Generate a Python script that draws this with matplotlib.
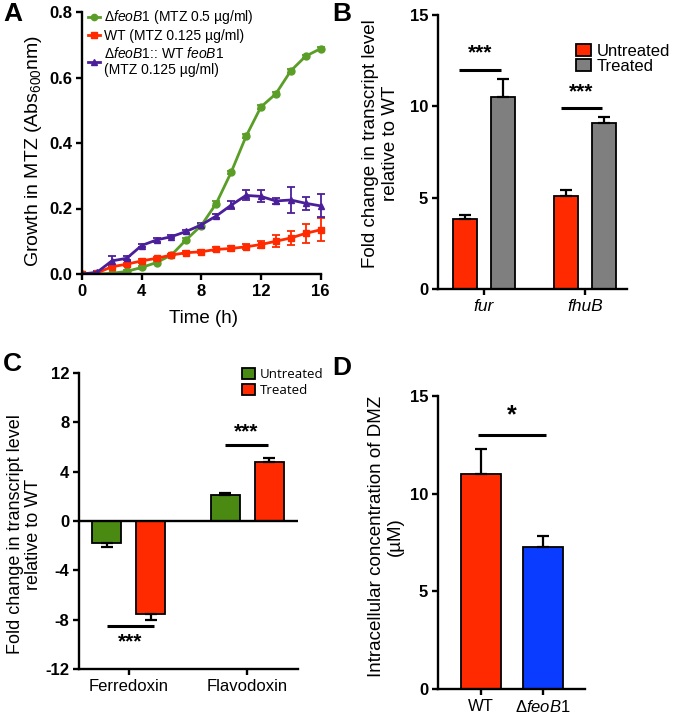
import numpy as np
import matplotlib
matplotlib.use("Agg")
import matplotlib.pyplot as plt
from matplotlib.lines import Line2D

plt.rcParams["font.family"] = ["Liberation Sans", "DejaVu Sans"]
plt.rcParams["mathtext.fontset"] = "custom"
plt.rcParams["mathtext.rm"] = "Liberation Sans"
plt.rcParams["mathtext.it"] = "Liberation Sans:italic"
plt.rcParams["mathtext.bf"] = "Liberation Sans:bold"
plt.rcParams["axes.unicode_minus"] = False
plt.rcParams["axes.linewidth"] = 1.7
plt.rcParams["xtick.major.width"] = 1.7
plt.rcParams["ytick.major.width"] = 1.7
plt.rcParams["xtick.major.size"] = 4
plt.rcParams["ytick.major.size"] = 4
plt.rcParams["xtick.labelsize"] = 12
plt.rcParams["ytick.labelsize"] = 12

# ---- panel A: growth curves
time_h = np.arange(17)
feoB1_mean = [0.0, 0.0, 0.002, 0.008, 0.02, 0.035, 0.058, 0.105, 0.148, 0.215,
              0.31, 0.42, 0.51, 0.55, 0.62, 0.665, 0.688]
feoB1_err = [0.0, 0.002, 0.002, 0.003, 0.004, 0.004, 0.004, 0.005, 0.005, 0.008,
             0.006, 0.006, 0.006, 0.005, 0.005, 0.005, 0.005]
wt_mean = [0.0, 0.003, 0.022, 0.03, 0.04, 0.048, 0.058, 0.065, 0.068, 0.075,
           0.078, 0.083, 0.09, 0.10, 0.11, 0.124, 0.135]
wt_err = [0.0, 0.003, 0.005, 0.005, 0.005, 0.005, 0.004, 0.005, 0.005, 0.006,
          0.007, 0.008, 0.01, 0.018, 0.02, 0.028, 0.035]
comp_mean = [0.0, 0.005, 0.04, 0.048, 0.087, 0.104, 0.114, 0.13, 0.15, 0.177,
             0.21, 0.24, 0.237, 0.223, 0.226, 0.216, 0.208]
comp_err = [0.0, 0.003, 0.016, 0.006, 0.005, 0.005, 0.005, 0.005, 0.005, 0.006,
            0.012, 0.015, 0.018, 0.01, 0.04, 0.02, 0.035]

# ---- panel B: fur / fhuB
genes_b = ["fur", "fhuB"]
b_untreated = [3.85, 5.1]
b_untreated_err = [0.2, 0.3]
b_treated = [10.5, 9.1]
b_treated_err = [1.0, 0.3]

# ---- panel C: ferredoxin / flavodoxin
genes_c = ["Ferredoxin", "Flavodoxin"]
c_untreated = [-1.8, 2.1]
c_untreated_err = [0.3, 0.2]
c_treated = [-7.5, 4.8]
c_treated_err = [0.5, 0.3]

# ---- panel D: DMZ uptake
strains_d = ["WT", r"$\mathit{\Delta feoB1}$"]
d_mean = [11.0, 7.25]
d_err = [1.3, 0.6]

GREEN_LINE = "#5a9e28"
GREEN_BAR = "#4a8a12"
RED = "#ff2a00"
PURPLE = "#4b1f9a"
GRAY = "#7f7f7f"
BLUE = "#0a3cff"

W, H = 675, 717
fig = plt.figure(figsize=(W / 100, H / 100), dpi=100)


def px_axes(x0, y0, x1, y1):
    return fig.add_axes([x0 / W, 1 - y1 / H, (x1 - x0) / W, (y1 - y0) / H])


def style(ax, boldx=False):
    ax.spines["top"].set_visible(False)
    ax.spines["right"].set_visible(False)
    ax.tick_params(direction="out", pad=3)
    for t in ax.get_yticklabels():
        t.set_fontweight("bold")
    if boldx:
        for t in ax.get_xticklabels():
            t.set_fontweight("bold")


def sig(ax, x0, x1, y, text, ty, fs=15):
    ax.plot([x0, x1], [y, y], color="black", lw=2.2, solid_capstyle="butt")
    ax.text((x0 + x1) / 2, ty, text, ha="center", va="center",
            fontsize=fs, fontweight="bold")


# ---------------- A ----------------
axA = px_axes(82, 12, 325, 274)
kw = dict(lw=2, capsize=3, elinewidth=1.3, capthick=1.3, markersize=5)
axA.errorbar(time_h, feoB1_mean, yerr=feoB1_err, color=GREEN_LINE, marker="o", **kw)
axA.errorbar(time_h, wt_mean, yerr=wt_err, color=RED, marker="s", **kw)
axA.errorbar(time_h, comp_mean, yerr=comp_err, color=PURPLE, marker="^", **kw)
axA.set_xlim(0, 16.3)
axA.set_ylim(0, 0.8)
axA.set_xticks([0, 4, 8, 12, 16])
axA.set_yticks([0, 0.2, 0.4, 0.6, 0.8])
axA.set_yticklabels(["0.0", "0.2", "0.4", "0.6", "0.8"])
axA.spines["left"].set_bounds(0, 0.8)
axA.spines["bottom"].set_bounds(0, 16)
axA.set_xlabel("Time (h)", fontsize=13.5, labelpad=8)
axA.set_ylabel(r"Growth in MTZ (Abs$_{600}$nm)", fontsize=14, labelpad=4)
axA.yaxis.label.set_y(0.47)
style(axA, boldx=True)
handles = [Line2D([], [], color=c, marker=m, lw=2, markersize=4.5)
           for c, m in [(GREEN_LINE, "o"), (RED, "s"), (PURPLE, "^")]]
labels = [r"$\Delta\mathit{feoB1}$ (MTZ 0.5 µg/ml)", "WT (MTZ 0.125 µg/ml)",
          r"$\Delta\mathit{feoB1}$:: WT $\mathit{feoB1}$" + "\n(MTZ 0.125 µg/ml)"]
axA.legend(handles, labels, loc="upper left", bbox_to_anchor=(0.0, 1.035),
           frameon=False, fontsize=10, handlelength=0.9, handletextpad=0.25,
           labelspacing=0.2, borderaxespad=0)

# ---------------- B ----------------
axB = px_axes(438, 15, 627, 289)
xb = np.arange(len(genes_b))
off, bw = 0.188, 0.238
bkw = dict(edgecolor="black", linewidth=1.3, capsize=4,
           error_kw=dict(elinewidth=1.6, capthick=1.6))
axB.bar(xb - off, b_untreated, bw, yerr=[np.zeros(2), b_untreated_err],
        color=RED, label="Untreated", **bkw)
axB.bar(xb + off, b_treated, bw, yerr=[np.zeros(2), b_treated_err],
        color=GRAY, label="Treated", **bkw)
axB.set_xlim(-0.455, 1.416)
axB.set_ylim(0, 15)
axB.set_yticks([0, 5, 10, 15])
axB.set_xticks(xb)
axB.set_xticklabels(genes_b, fontstyle="italic", fontsize=12.5)
axB.set_ylabel("Fold change in transcript level\nrelative to WT", fontsize=13.5,
               labelpad=8)
axB.yaxis.label.set_y(0.53)
style(axB)
sig(axB, -0.25, 0.17, 12.0, "***", 12.9)
sig(axB, 0.76, 1.17, 9.9, "***", 10.8)
axB.legend(loc="upper left", bbox_to_anchor=(0.695, 0.92), frameon=False,
           fontsize=12, handlelength=0.9, handleheight=0.72,
           handletextpad=0.35, labelspacing=0.0, borderaxespad=0)

# ---------------- C ----------------
axC = px_axes(79, 373, 298, 669)
xc = np.arange(len(genes_c))
off, bw = 0.186, 0.245
err_u = [[c_untreated_err[0], 0], [0, c_untreated_err[1]]]
err_t = [[c_treated_err[0], 0], [0, c_treated_err[1]]]
axC.bar(xc - off, c_untreated, bw, yerr=err_u, color=GREEN_BAR,
        label="Untreated", **bkw)
axC.bar(xc + off, c_treated, bw, yerr=err_t, color=RED, label="Treated", **bkw)
axC.axhline(0, color="black", lw=1.7, zorder=3)
axC.set_xlim(-0.42, 1.43)
axC.set_ylim(-12, 12)
axC.set_yticks([-12, -8, -4, 0, 4, 8, 12])
axC.set_xticks(xc)
axC.set_xticklabels(genes_c, fontsize=12)
axC.set_ylabel("Fold change in transcript level\nrelative to WT", fontsize=13,
               labelpad=2, linespacing=1.1)
axC.yaxis.label.set_y(0.455)
style(axC)
sig(axC, -0.18, 0.21, -8.5, "***", -9.8)
sig(axC, 0.81, 1.18, 6.2, "***", 7.2)
axC.legend(loc="upper left", bbox_to_anchor=(0.72, 1.035), frameon=False,
           prop=dict(family="Open Sans", size=9.5), handlelength=1.0,
           handleheight=0.95, handletextpad=0.35, labelspacing=0.2,
           borderaxespad=0)

# ---------------- D ----------------
axD = px_axes(438, 396, 585, 689)
xd = np.arange(len(strains_d))
axD.bar(xd, d_mean, 0.645, yerr=[np.zeros(2), d_err], color=[RED, BLUE], **bkw)
axD.set_xlim(-0.69, 1.68)
axD.set_ylim(0, 15)
axD.set_yticks([0, 5, 10, 15])
axD.set_xticks(xd)
axD.set_xticklabels(strains_d, fontsize=12)
axD.set_ylabel("Intracellular concentration of DMZ\n(µM)", fontsize=13.5,
               labelpad=4)
axD.yaxis.label.set_y(0.52)
style(axD)
sig(axD, -0.05, 1.05, 13.0, "*", 14.0, fs=18)

# panel letters
for lab, x, y in [("A", 3, 14), ("B", 332, 14), ("C", 3, 364), ("D", 332, 368)]:
    fig.text(x / W, 1 - y / H, lab, fontsize=19, fontweight="bold",
             ha="left", va="center")

fig.savefig("out.png", dpi=100)
